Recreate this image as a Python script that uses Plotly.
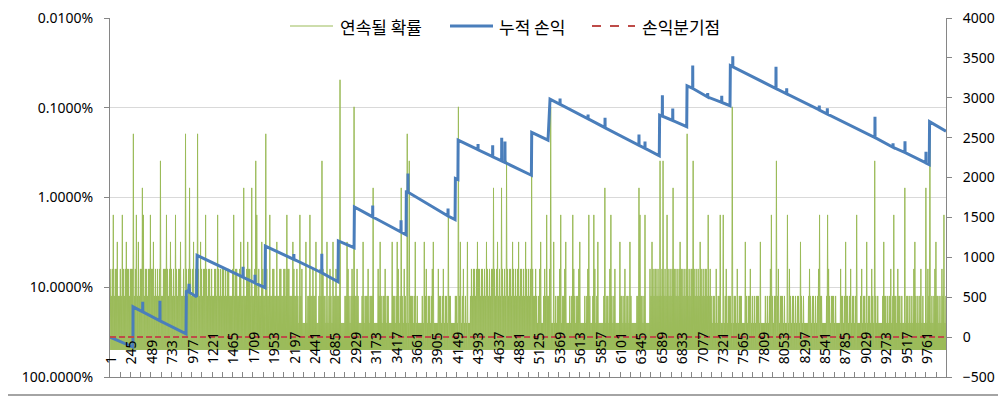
import numpy as np
import plotly.graph_objects as go

N = 10000
tick_cats = list(range(1, N + 1, 244))
tick_labels = [str(c) for c in tick_cats]
legend_names = ["연속될 확률", "누적 손익", "손익분기점"]

# cumulative P&L (key points, spikes included)
pnl_cat = [1, 272, 275, 276, 391, 392, 393, 597, 598, 599, 910, 914, 940, 946, 952, 1036, 1042,
           1591, 1592, 1593, 1734, 1735, 1736, 1855, 1859, 2199, 2200, 2201, 2533, 2534, 2535, 2728, 2732,
           2920, 2924, 3142, 3143, 3144, 3481, 3482, 3483, 3542, 3545, 3564, 3565, 3566, 4043, 4044, 4045,
           4128, 4132, 4162, 4165, 4402, 4403, 4404, 4577, 4578, 4579, 4685, 4686, 4687, 4724, 4725, 4726,
           5041, 5045, 5240, 5264, 5383, 5384, 5385, 5718, 5719, 5720, 5921, 5922, 5923, 6327, 6328, 6329,
           6399, 6400, 6401, 6571, 6575, 6607, 6608, 6609, 6731, 6732, 6733, 6899, 6903, 6970, 6971, 6972,
           7149, 7150, 7151, 7317, 7318, 7319, 7417, 7421, 7449, 7450, 7451, 7966, 7967, 7968, 8094, 8095, 8096,
           8484, 8485, 8486, 8580, 8581, 8582, 9150, 9151, 9152, 9366, 9367, 9368, 9509, 9510, 9511,
           9760, 9761, 9762, 9800, 9804, 10000]
pnl_val = [0, -120, -125, 380, 318, 444, 317, 205, 456, 204, 41, 585, 560, 669, 560, 506, 1025,
           751, 883, 750, 679, 780, 678, 619, 1140, 975, 1040, 975, 807, 1046, 806, 694, 1205,
           1121, 1632, 1507, 1649, 1506, 1317, 1464, 1316, 1284, 1820, 1818, 2050, 1816, 1519, 1611, 1518,
           1473, 1988, 1975, 2468, 2349, 2420, 2348, 2262, 2406, 2261, 2208, 2499, 2207, 2189, 2452, 2188,
           2029, 2565, 2468, 2983, 2918, 2990, 2917, 2736, 2791, 2735, 2625, 2750, 2624, 2404, 2540, 2403,
           2366, 2452, 2365, 2272, 2782, 2770, 3033, 2769, 2716, 2867, 2715, 2637, 3151, 3118, 3403, 3117,
           3010, 3060, 3009, 2942, 3026, 2941, 2900, 3403, 3390, 3519, 3389, 3116, 3390, 3115, 3050, 3118, 3049,
           2848, 2904, 2847, 2797, 2867, 2796, 2501, 2762, 2500, 2380, 2430, 2379, 2314, 2456, 2313,
           2183, 2323, 2182, 2163, 2700, 2581]

# longest streak per block of 12 trials (probability = 0.5**k)
BIN = 12
streak_rows = [
    "434434443343443434434443344343444334434434443434344334443434",
    "443434434443343443434344343443343443434434334434434344343443",
    "334434433443343343443433443343344334433433443343344334433443",
    "333433432334222423343343322234334332223432333433342222333432",
    "343233432223423334233342222433323342332222332334233324322223",
    "332342322223233423323432222433234233243322223324332342322223",
    "434434344344343443434434344343443434434434434344344343443434",
    "343343234222343233432222323343233422223233432334322223234332",
    "233423322222342332433234222243323423324322222332433234222243",
    "343443434344343443434344343434434344343443434343443434434343",
    "233242333222234233323233242333222232334232323332322223232342",
    "323323423332322224323323233243232222343233232342332222324323",
    "332322224332323323423323222234233232332432332322223233232342",
    "323324332322223323232433232342322224332323423323243323234323",
]
tall_bin = [23, 26, 32, 33, 50, 65, 70, 75, 79, 87, 133, 141, 145, 146, 155, 211, 229, 243, 262, 290,
            296, 298, 337, 347, 382, 390, 395, 420, 439, 449, 493, 527, 548, 551, 561, 575, 581, 620,
            664, 762, 792, 813, 817]
tall_k = [9, 6, 7, 6, 8, 6, 5, 9, 7, 9, 7, 7, 8, 6, 9, 8, 11, 10, 7, 7,
          9, 8, 6, 10, 7, 7, 8, 8, 10, 6, 7, 7, 8, 8, 7, 9, 8, 10,
          8, 8, 7, 7, 9]
six_bin = [3, 12, 40, 56, 95, 107, 123, 159, 176, 189, 199, 435, 461, 477, 482, 499, 528, 533, 555,
           596, 608, 611, 659, 675, 707, 715, 744, 781, 831]
five_bin = [7, 16, 28, 43, 60, 83, 90, 130, 137, 151, 166, 182, 195, 205, 216, 222, 236, 252, 269, 281,
            286, 304, 313, 322, 349, 356, 366, 375, 386, 401, 407, 414, 429, 442, 454, 468, 486, 508,
            518, 540, 568, 588, 633, 648, 688, 733, 754, 771, 802, 823]

n_bins = (N + BIN - 1) // BIN
k = np.array([int(c) for c in "".join(streak_rows)][:n_bins])
if len(k) < n_bins:
    k = np.concatenate([k, np.full(n_bins - len(k), 3)])
for b in five_bin:
    k[b] = max(k[b], 5)
for b in six_bin:
    k[b] = max(k[b], 6)
for b, kk in zip(tall_bin, tall_k):
    k[b] = kk
x_peak = BIN * np.arange(n_bins) + 4
x_base = x_peak + 6
gx = np.column_stack([x_peak, x_base]).ravel()
gy = np.column_stack([0.5 ** k, np.full(n_bins, 0.5)]).ravel()

GREEN = "#9BBB59"
BLUE = "#4A7EBB"
RED = "#BE4B48"
AXIS = "#868686"

fig = go.Figure()
fig.add_trace(go.Scatter(x=gx, y=gy, mode="lines", name=legend_names[0],
                         line=dict(color=GREEN, width=1), yaxis="y"))
fig.add_trace(go.Scatter(x=pnl_cat, y=pnl_val, mode="lines", name=legend_names[1],
                         line=dict(color=BLUE, width=3), yaxis="y2"))
fig.add_trace(go.Scatter(x=[1, N], y=[0, 0], mode="lines", name=legend_names[2],
                         line=dict(color=RED, width=2, dash="6px,3px"), yaxis="y2"))

# page geometry (the page body adds an 8px offset)
OFF = 8
W, H = 1006, 397
PX0, PX1, PY0, PY1 = 110, 946, 18, 377
pw, ph = PX1 - PX0, PY1 - PY0


def px(x):
    return (x - PX0) / pw


def py(y):
    return (PY1 - y) / ph


annotations = [dict(x=c, xref="x", y=py(366), yref="paper", text=t, showarrow=False,
                    textangle=-90, xanchor="center", yanchor="bottom",
                    font=dict(size=14, color="#000000"))
               for c, t in zip(tick_cats, tick_labels)]

# legend drawn as samples + text
LEG_Y = 26
leg = [(290, 333, 338, GREEN, 1, "solid"), (450, 493, 497, BLUE, 3, "solid"),
       (592, 635, 640, RED, 2, "dash")]
shapes = []
for (a, b, tx, col, wd, ds), name in zip(leg, legend_names):
    shapes.append(dict(type="line", xref="paper", yref="paper", x0=px(a), x1=px(b),
                       y0=py(LEG_Y), y1=py(LEG_Y), line=dict(color=col, width=wd, dash=ds)))
    annotations.append(dict(x=px(tx), xref="paper", y=py(LEG_Y), yref="paper", text=name,
                            showarrow=False, xanchor="left", yanchor="middle",
                            font=dict(family="Noto Sans CJK KR", size=17, color="#000000")))

shapes.append(dict(type="rect", xref="paper", yref="paper",
                   x0=px(0.5), x1=px(1003.5), y0=py(395), y1=py(0.5),
                   line=dict(color=AXIS, width=1.5), fillcolor="rgba(0,0,0,0)", layer="above"))

fig.update_layout(
    width=W, height=H,
    margin=dict(l=PX0 - OFF, r=W - (PX1 - OFF), t=PY0 - OFF, b=H - (PY1 - OFF), autoexpand=False),
    paper_bgcolor="white", plot_bgcolor="white",
    font=dict(family="Noto Sans, Noto Sans CJK KR", size=14, color="#000000"),
    showlegend=False,
    xaxis=dict(range=[0.5, N + 0.5], tickmode="array", tickvals=tick_cats, showticklabels=False,
               ticks="inside", ticklen=5, tickcolor=AXIS,
               showline=True, linecolor=AXIS, showgrid=False, zeroline=False, automargin=False,
               minor=dict(tickvals=[c + 122 for c in tick_cats], ticks="inside", ticklen=5, tickcolor=AXIS)),
    yaxis=dict(type="log", range=[0, -4], tickmode="array",
               tickvals=[1e-4, 1e-3, 1e-2, 1e-1, 1],
               ticktext=["0.0100%", "0.1000%", "1.0000%", "10.0000%", "100.0000%"],
               showgrid=True, gridcolor="#D9D9D9", showline=True, linecolor=AXIS,
               ticks="outside", ticklen=5, tickcolor=AXIS, zeroline=False, automargin=False,
               ticklabelstandoff=8, ticklabeloverflow="allow"),
    yaxis2=dict(overlaying="y", side="right", range=[-500, 4000], tick0=0, dtick=500,
                showgrid=False, showline=True, linecolor=AXIS, ticks="outside", ticklen=5,
                tickcolor=AXIS, zeroline=False, automargin=False, ticklabelstandoff=8,
                ticklabeloverflow="allow"),
    annotations=annotations,
    shapes=shapes,
)

fig.write_html("out.html")
